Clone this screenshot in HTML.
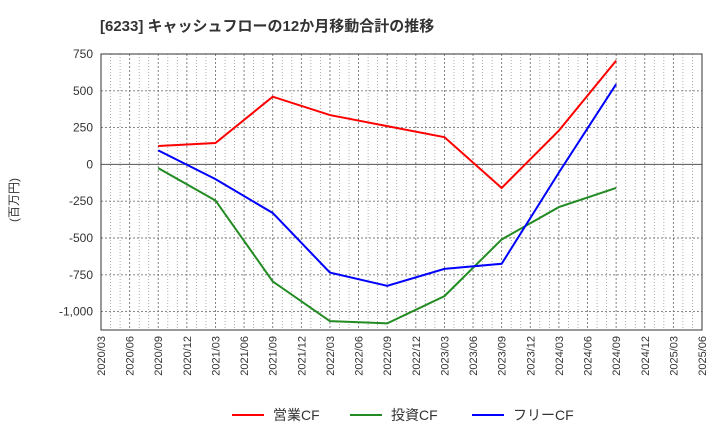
<!DOCTYPE html>
<html><head><meta charset="utf-8"><style>
body{margin:0;background:#fff;font-family:"Liberation Sans","Noto Sans CJK JP",sans-serif;}
</style></head><body>
<svg id="chart" width="720" height="440" xmlns="http://www.w3.org/2000/svg" font-family="Liberation Sans, Noto Sans CJK JP, sans-serif">
<text x="100" y="31" font-size="15" font-weight="bold" fill="#333">[6233]  キャッシュフローの12か月移動合計の推移</text>
<text transform="translate(18,200) rotate(-90)" font-size="12" fill="#333" text-anchor="middle">(百万円)</text>
<g id="grid"></g><g id="axes"></g><g id="series"></g><g id="legend"></g>
</svg>
<script>
const xLabels=["2020/03","2020/06","2020/09","2020/12","2021/03","2021/06","2021/09","2021/12","2022/03","2022/06","2022/09","2022/12","2023/03","2023/06","2023/09","2023/12","2024/03","2024/06","2024/09","2024/12","2025/03","2025/06"];
const yTicks=[750,500,250,0,-250,-500,-750,-1000];
const yTickLabels=["750","500","250","0","-250","-500","-750","-1,000"];
const pointIdx=[2,4,6,8,10,12,14,16,18];
const opCF=[125,145,460,335,260,185,-160,230,705];
const invCF=[-25,-245,-795,-1065,-1080,-895,-510,-290,-160];
const freeCF=[95,-100,-330,-735,-825,-710,-675,-55,545];
const seriesNames=["営業CF","投資CF","フリーCF"];
const colors=["#ff0000","#228b22","#0000ff"];
const L=101,R=702,T=54,B=330;
const x=i=>L+(R-L)*i/21;
const y=v=>T+(750-v)*(B-T)/1875;
const NS="http://www.w3.org/2000/svg";
function mk(tag,attrs,parent,txt){const e=document.createElementNS(NS,tag);for(const k in attrs)e.setAttribute(k,attrs[k]);if(txt!==undefined)e.textContent=txt;document.getElementById(parent).appendChild(e);return e;}
const g='grid';
for(let m=1;m<63;m++){if(m%3===0)continue;const xx=L+(R-L)*m/63;const e=mk('line',{x1:xx,x2:xx,y1:T,y2:B,stroke:'#999','stroke-width':0.8,'stroke-dasharray':'1,2'},g);}
for(let i=1;i<21;i++){const e=mk('line',{x1:x(i),x2:x(i),y1:T,y2:B,stroke:'#777','stroke-width':0.9,'stroke-dasharray':'2,2'},g);}
yTicks.forEach((v,i)=>{const e=mk('line',{x1:L,x2:R,y1:y(v),y2:y(v),stroke:v===0?'#555':'#777','stroke-width':v===0?1:0.9,'stroke-dasharray':v===0?'':'2,2'},g);
const t=mk('text',{x:L-8,y:y(v)+4,'font-size':12,fill:'#333','text-anchor':'end'},'axes',yTickLabels[i]);});
const fr=mk('rect',{x:L,y:T,width:R-L,height:B-T,fill:'none',stroke:'#333','stroke-width':1},'axes');
xLabels.forEach((s,i)=>{const t=mk('text',{transform:`translate(${x(i)+4},${B+6}) rotate(-90)`,'font-size':11,fill:'#333','text-anchor':'end'},'axes',s);});
[opCF,invCF,freeCF].forEach((d,si)=>{const pts=d.map((v,i)=>x(pointIdx[i])+','+y(v)).join(' ');const p=mk('polyline',{points:pts,fill:'none',stroke:colors[si],'stroke-width':2},'series');});
const lx=[232,350,472];
seriesNames.forEach((n,i)=>{const l=mk('line',{x1:lx[i],x2:lx[i]+32,y1:415,y2:415,stroke:colors[i],'stroke-width':2},'legend');
const t=mk('text',{x:lx[i]+41,y:420,'font-size':14,fill:'#333'},'legend',n);});
</script>
</body></html>
